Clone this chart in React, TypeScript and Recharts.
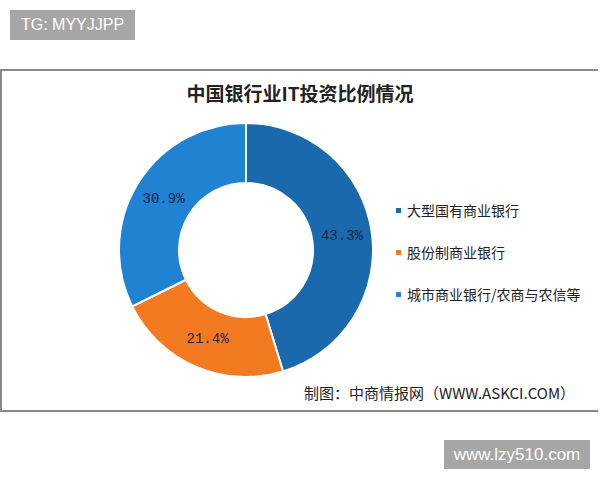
import { PieChart, Pie, Cell, Legend } from "recharts";

const categories = ["大型国有商业银行", "股份制商业银行", "城市商业银行/农商与农信等"];
const shares = [43.3, 21.4, 30.9];
const labels = ["43.3%", "21.4%", "30.9%"];
const colors = ["#1b69ad", "#f47a22", "#1f82d3"];

const data = categories.map((name, i) => ({ name, value: shares[i], label: labels[i] }));

const RAD = Math.PI / 180;

function SliceLabel(props: any) {
  const { cx, cy, midAngle, innerRadius, outerRadius, index } = props;
  const r = (innerRadius + outerRadius) / 2;
  const x = cx + r * Math.cos(-midAngle * RAD);
  const y = cy + r * Math.sin(-midAngle * RAD);
  return (
    <text
      x={x}
      y={y}
      fill="#1c2748"
      textAnchor="middle"
      dominantBaseline="central"
      fontFamily="'Liberation Mono', 'DejaVu Sans Mono', monospace"
      fontSize={14}
    >
      {data[index].label}
    </text>
  );
}

function LegendList() {
  return (
    <div>
      {data.map((d, i) => (
        <div key={d.name} style={{ display: "flex", alignItems: "center", height: 42 }}>
          <span style={{ width: 5, height: 5, background: colors[i], marginRight: 6 }} />
          <span style={{ fontSize: 14, color: "#222" }}>{d.name}</span>
        </div>
      ))}
    </div>
  );
}

export default function App() {
  const font = "'Noto Sans CJK SC', 'Noto Sans', sans-serif";
  return (
    <div style={{ position: "absolute", left: 0, top: 0, width: 600, height: 480, background: "#fff", fontFamily: font }}>
      <div
        style={{
          position: "absolute", left: 10, top: 10, width: 125, height: 30, background: "#a6a6a6",
          color: "#fff", fontSize: 16, lineHeight: "30px", textAlign: "center", fontFamily: "'Liberation Sans', Arial, sans-serif",
        }}
      >
        TG: MYYJJPP
      </div>
      <div
        style={{
          position: "absolute", left: 0, top: 69, width: 596, height: 339, border: "2px solid #8a8a8a",
          borderRight: "none",
        }}
      />
      <div
        style={{
          position: "absolute", left: 0, top: 78, width: 600, textAlign: "center", fontSize: 19,
          fontWeight: 700, color: "#222", lineHeight: "30px",
        }}
      >
        中国银行业IT投资比例情况
      </div>
      <div style={{ position: "absolute", left: 0, top: 0 }}>
        <PieChart width={600} height={480} margin={{ top: 0, right: 0, bottom: 0, left: 0 }}>
          <Pie
            data={data}
            dataKey="value"
            nameKey="name"
            cx={246}
            cy={250}
            innerRadius={67}
            outerRadius={127}
            startAngle={90}
            endAngle={-270}
            stroke="#fff"
            strokeWidth={2}
            label={SliceLabel}
            labelLine={false}
            isAnimationActive={false}
          >
            {data.map((d, i) => (
              <Cell key={d.name} fill={colors[i]} />
            ))}
          </Pie>
          <Legend
            content={<LegendList />}
            layout="vertical"
            wrapperStyle={{ position: "absolute", left: 396, top: 189, width: 200 }}
          />
        </PieChart>
      </div>
      <div style={{ position: "absolute", left: 304, top: 381, fontSize: 15, color: "#222", lineHeight: "24px" }}>
        制图：中商情报网（WWW.ASKCI.COM）
      </div>
      <div
        style={{
          position: "absolute", left: 444, top: 440, width: 146, height: 29, background: "#a6a6a6",
          color: "#fff", fontSize: 17, lineHeight: "29px", textAlign: "center", fontFamily: "'Liberation Sans', Arial, sans-serif",
        }}
      >
        www.lzy510.com
      </div>
    </div>
  );
}
